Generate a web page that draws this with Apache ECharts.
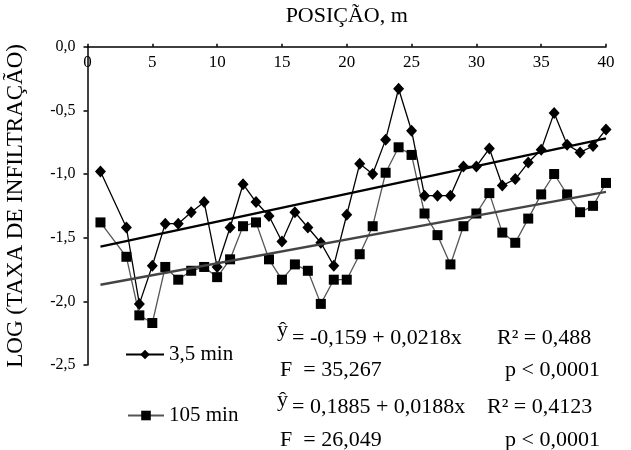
<!DOCTYPE html>
<html>
<head>
<meta charset="utf-8">
<script src="https://cdn.jsdelivr.net/npm/echarts@6/dist/echarts.min.js"></script>
<style>
  html, body { margin: 0; padding: 0; background: #fff; }
  #chart { width: 631px; height: 450px; }
</style>
</head>
<body>
<div id="chart"></div>
<script>
// Position along the transect (m); no reading at 2 m
const positions = [1, 3, 4, 5, 6, 7, 8, 9, 10, 11, 12, 13, 14, 15, 16, 17, 18, 19, 20,
  21, 22, 23, 24, 25, 26, 27, 28, 29, 30, 31, 32, 33, 34, 35, 36, 37, 38, 39, 40];

// log infiltration rate after 3.5 min
const rate35 = [-0.98, -1.42, -2.02, -1.72, -1.39, -1.39, -1.30, -1.22, -1.73, -1.42,
  -1.08, -1.22, -1.33, -1.53, -1.30, -1.42, -1.54, -1.72, -1.32, -0.92,
  -1.00, -0.73, -0.33, -0.66, -1.17, -1.17, -1.17, -0.94, -0.94, -0.80,
  -1.09, -1.04, -0.91, -0.81, -0.52, -0.77, -0.83, -0.78, -0.65];

// log infiltration rate after 105 min
const rate105 = [-1.38, -1.65, -2.11, -2.17, -1.73, -1.83, -1.76, -1.73, -1.81, -1.67,
  -1.41, -1.38, -1.67, -1.83, -1.71, -1.76, -2.02, -1.83, -1.83, -1.63,
  -1.41, -0.99, -0.79, -0.85, -1.31, -1.48, -1.71, -1.41, -1.31, -1.15,
  -1.46, -1.54, -1.35, -1.16, -1.00, -1.16, -1.30, -1.25, -1.07];

// Fitted trend lines (end points)
const trendX = [1, 40];
const trend35 = [-1.57, -0.72];
const trend105 = [-1.87, -1.14];

const xTicks = [0, 5, 10, 15, 20, 25, 30, 35, 40];
const yTicks = [0, -0.5, -1, -1.5, -2, -2.5];

const serif = '"Liberation Serif", "Times New Roman", serif';
const pairs = (xs, ys) => xs.map((x, i) => [x, ys[i]]);
const fmtComma = v => v.toFixed(1).replace('.', ',');
const noteFont = '22px ' + serif;

const chart = echarts.init(document.getElementById('chart'), null, { renderer: 'canvas' });

chart.setOption({
  animation: false,
  backgroundColor: '#fff',
  grid: {
    left: 87.5, right: 25, top: 46.7, bottom: 85,
    containLabel: false, outerBoundsMode: 'none'
  },
  xAxis: {
    type: 'value',
    position: 'top',
    min: xTicks[0],
    max: xTicks[xTicks.length - 1],
    interval: 5,
    name: 'POSIÇÃO, m',
    nameLocation: 'middle',
    nameGap: 19,
    nameTextStyle: { fontFamily: serif, fontSize: 22, color: '#000' },
    axisLine: { show: true, lineStyle: { color: '#000', width: 1.5 } },
    axisTick: { show: true, length: 3, lineStyle: { color: '#000', width: 1.5 } },
    axisLabel: {
      inside: true, margin: 7, fontFamily: serif, fontSize: 17, color: '#000',
      showMinLabel: true, showMaxLabel: true
    },
    splitLine: { show: false }
  },
  yAxis: {
    type: 'value',
    min: yTicks[yTicks.length - 1],
    max: yTicks[0],
    interval: 0.5,
    name: 'LOG (TAXA DE INFILTRAÇÃO)',
    nameLocation: 'middle',
    nameRotate: 90,
    nameGap: 60,
    nameTextStyle: { fontFamily: serif, fontSize: 23, color: '#000' },
    axisLine: { show: true, lineStyle: { color: '#000', width: 1.5 } },
    axisTick: { show: true, length: 4, lineStyle: { color: '#000', width: 1.5 } },
    axisLabel: {
      margin: 12, fontFamily: serif, fontSize: 16, color: '#000',
      formatter: v => fmtComma(v)
    },
    splitLine: { show: false }
  },
  legend: [
    {
      data: ['3,5 min'],
      left: 125, top: 344, padding: 0,
      itemWidth: 38, itemHeight: 12, itemGap: 3,
      textStyle: { fontFamily: serif, fontSize: 21, color: '#000' }
    },
    {
      data: ['105 min'],
      left: 127, top: 405, padding: 0,
      itemWidth: 36, itemHeight: 12, itemGap: 4,
      textStyle: { fontFamily: serif, fontSize: 21, color: '#000' }
    }
  ],
  series: [
    {
      name: '105 min',
      type: 'line',
      data: pairs(positions, rate105),
      symbol: 'rect',
      symbolSize: 10,
      itemStyle: { color: '#000' },
      lineStyle: { color: '#555', width: 1.3 },
      z: 2
    },
    {
      name: '3,5 min',
      type: 'line',
      data: pairs(positions, rate35),
      symbol: 'diamond',
      symbolSize: [11, 12],
      itemStyle: { color: '#000' },
      lineStyle: { color: '#000', width: 1.3 },
      z: 3
    },
    {
      name: 'trend105',
      type: 'line',
      data: pairs(trendX, trend105),
      symbol: 'none',
      lineStyle: { color: '#444', width: 2.4 },
      z: 4
    },
    {
      name: 'trend35',
      type: 'line',
      data: pairs(trendX, trend35),
      symbol: 'none',
      lineStyle: { color: '#000', width: 2.4 },
      z: 4
    }
  ],
  graphic: [
    { type: 'text', left: 277, top: 319, style: { text: 'ŷ', font: noteFont, fill: '#000' } },
    { type: 'text', left: 292, top: 327, style: { text: '= -0,159 + 0,0218x', font: noteFont, fill: '#000' } },
    { type: 'text', left: 497, top: 327, style: { text: 'R² = 0,488', font: noteFont, fill: '#000' } },
    { type: 'text', left: 280, top: 359, style: { text: 'F  = 35,267', font: noteFont, fill: '#000' } },
    { type: 'text', left: 505, top: 359, style: { text: 'p < 0,0001', font: noteFont, fill: '#000' } },
    { type: 'text', left: 277, top: 389, style: { text: 'ŷ', font: noteFont, fill: '#000' } },
    { type: 'text', left: 292, top: 396, style: { text: '= 0,1885 + 0,0188x', font: noteFont, fill: '#000' } },
    { type: 'text', left: 487, top: 396, style: { text: 'R² = 0,4123', font: noteFont, fill: '#000' } },
    { type: 'text', left: 280, top: 429, style: { text: 'F  = 26,049', font: noteFont, fill: '#000' } },
    { type: 'text', left: 505, top: 429, style: { text: 'p < 0,0001', font: noteFont, fill: '#000' } }
  ]
});
</script>
</body>
</html>
